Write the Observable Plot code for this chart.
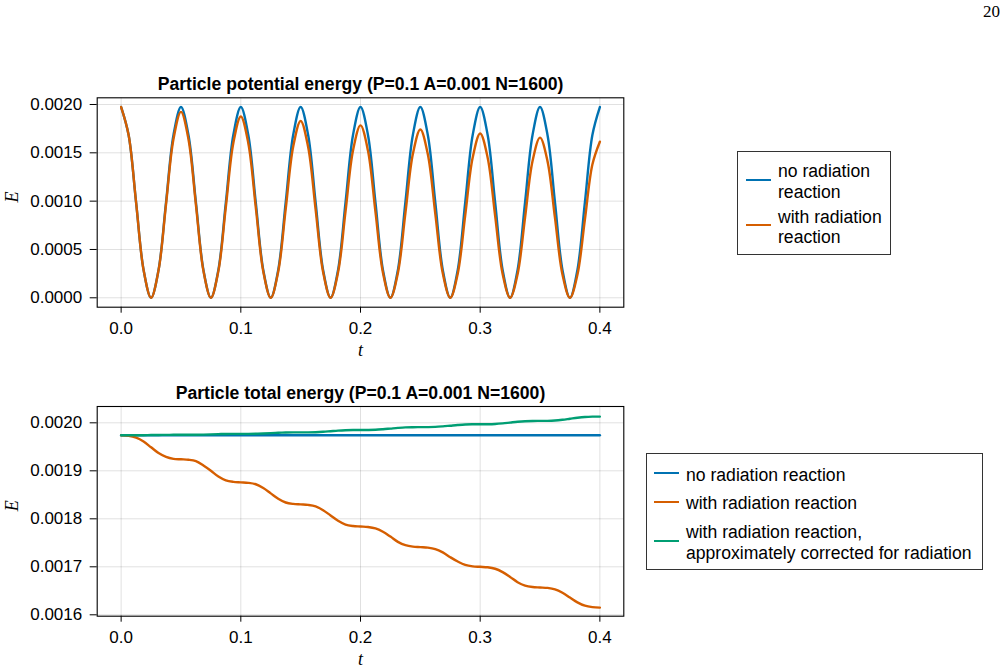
<!DOCTYPE html>
<html>
<head>
<meta charset="utf-8">
<script src="https://cdn.jsdelivr.net/npm/d3@7"></script>
<script src="https://cdn.jsdelivr.net/npm/@observablehq/plot@0.6"></script>
<style>
  html, body { margin: 0; padding: 0; background: #fff; }
  #page { position: relative; width: 1008px; height: 672px; overflow: hidden; background: #fff;
          font-family: "Liberation Sans", Arial, Helvetica, sans-serif; color: #000; }
  .abs { position: absolute; }
  .pagenum { font-family: "Liberation Serif", "DejaVu Serif", serif; font-size: 17px; right: 8px; top: 2px; }
  .legend { position: absolute; border: 1px solid #333; background: #fff; box-sizing: border-box; }
  .sw { position: absolute; height: 0; border-top: 2.6px solid; width: 25px; }
  .lt { position: absolute; font-size: 17.6px; line-height: 20.5px; white-space: pre; }
</style>
</head>
<body>
<div id="page"></div>
<script>
// ---------------- data ----------------
const tGrid = [0,0.00625,0.0125,0.01875,0.025,0.03125,0.0375,0.04375,
  0.05,0.05625,0.0625,0.06875,0.075,0.08125,0.0875,0.09375,
  0.1,0.10625,0.1125,0.11875,0.125,0.13125,0.1375,0.14375,
  0.15,0.15625,0.1625,0.16875,0.175,0.18125,0.1875,0.19375,
  0.2,0.20625,0.2125,0.21875,0.225,0.23125,0.2375,0.24375,
  0.25,0.25625,0.2625,0.26875,0.275,0.28125,0.2875,0.29375,
  0.3,0.30625,0.3125,0.31875,0.325,0.33125,0.3375,0.34375,
  0.35,0.35625,0.3625,0.36875,0.375,0.38125,0.3875,0.39375,
  0.4];

// potential energy, no radiation reaction
const potNoRR = [0.001974,0.001685,0.000987,0.000289,0,0.000289,0.000987,0.001685,
  0.001974,0.001685,0.000987,0.000289,0,0.000289,0.000987,0.001685,
  0.001974,0.001685,0.000987,0.000289,0,0.000289,0.000987,0.001685,
  0.001974,0.001685,0.000987,0.000289,0,0.000289,0.000987,0.001685,
  0.001974,0.001685,0.000987,0.000289,0,0.000289,0.000987,0.001685,
  0.001974,0.001685,0.000987,0.000289,0,0.000289,0.000987,0.001685,
  0.001974,0.001685,0.000987,0.000289,0,0.000289,0.000987,0.001685,
  0.001974,0.001685,0.000987,0.000289,0,0.000289,0.000987,0.001685,
  0.001974];

// potential energy, with radiation reaction
const potWithRR = [0.001974,0.001684,0.000985,0.000287,0,0.000284,0.000965,0.001643,
  0.001924,0.001641,0.000960,0.000280,0,0.000276,0.000940,0.001602,
  0.001876,0.001600,0.000936,0.000273,0,0.000270,0.000917,0.001563,
  0.001830,0.001561,0.000913,0.000266,0,0.000263,0.000894,0.001524,
  0.001784,0.001522,0.000890,0.000260,0,0.000257,0.000873,0.001487,
  0.001741,0.001485,0.000869,0.000253,0,0.000250,0.000852,0.001452,
  0.001700,0.001450,0.000848,0.000247,0,0.000244,0.000831,0.001415,
  0.001657,0.001414,0.000827,0.000241,0,0.000238,0.000810,0.001379,
  0.001615];

// total energy
const totT = [0,0.05,0.1,0.15,0.2,0.25,0.3,0.35,0.4];
const totNoRR = [0.001974,0.001974,0.001974,0.001974,0.001974,0.001974,0.001974,0.001974,0.001974];

const totWithRR = [0.001974,0.001973,0.001969,0.001961,0.001949,0.001937,0.001929,0.001925,
  0.001924,0.001923,0.001920,0.001911,0.001900,0.001888,0.001880,0.001877,
  0.001876,0.001875,0.001872,0.001864,0.001853,0.001842,0.001834,0.001831,
  0.001830,0.001829,0.001826,0.001818,0.001807,0.001796,0.001788,0.001785,
  0.001784,0.001783,0.001780,0.001773,0.001763,0.001752,0.001745,0.001742,
  0.001741,0.001740,0.001737,0.001730,0.001720,0.001711,0.001704,0.001701,
  0.001700,0.001699,0.001696,0.001689,0.001679,0.001668,0.001661,0.001658,
  0.001657,0.001656,0.001653,0.001646,0.001636,0.001626,0.001619,0.001616,
  0.001615];

const totCorrected = [0.001974,0.001974,0.001974,0.001974,0.0019745,0.0019747,0.0019749,0.001975,
  0.001975,0.001975,0.0019752,0.0019755,0.001976,0.0019765,0.0019768,0.001977,
  0.001977,0.001977,0.0019773,0.0019778,0.0019785,0.0019792,0.0019797,0.001980,
  0.001980,0.0019801,0.0019805,0.0019813,0.0019825,0.0019837,0.0019845,0.0019849,
  0.001985,0.0019851,0.0019855,0.0019866,0.001988,0.0019894,0.0019905,0.0019909,
  0.001991,0.0019911,0.0019915,0.0019926,0.001994,0.0019954,0.0019965,0.0019969,
  0.001997,0.0019971,0.0019976,0.0019988,0.0020005,0.0020022,0.0020034,0.0020039,
  0.002004,0.0020041,0.0020048,0.0020064,0.0020085,0.0020106,0.0020122,0.0020129,
  0.002013];

const xTicks = [0, 0.1, 0.2, 0.3, 0.4];
const yTicksTop = [0, 0.0005, 0.0010, 0.0015, 0.0020];
const yTicksBottom = [0.0016, 0.0017, 0.0018, 0.0019, 0.0020];

const titleTop = "Particle potential energy (P=0.1 A=0.001 N=1600)";
const titleBottom = "Particle total energy (P=0.1 A=0.001 N=1600)";
const xLabel = "t";
const yLabel = "E";
const seriesNames = ["no radiation reaction", "with radiation reaction",
  "with radiation reaction,\napproximately corrected for radiation"];
const topLegendNames = ["no radiation\nreaction", "with radiation\nreaction"];
const colors = ["#0072B2", "#D55E00", "#009E73"];
const pageNumber = "20";

// ---------------- drawing ----------------
const page = document.getElementById("page");

function rows(xs, ys, name) { return xs.map((x, i) => ({t: x, E: ys[i], s: name})); }

function panel({height, marginTop, marginBottom, yDomain, yTicks, title, series}) {
  const serifItalic = "'Liberation Serif', 'DejaVu Serif', serif";
  return Plot.plot({
    width: 640, height,
    marginLeft: 96.7, marginRight: 16.7, marginTop, marginBottom,
    style: {fontFamily: "'Liberation Sans', Arial, Helvetica, sans-serif", fontSize: "17px", color: "#000", background: "transparent", overflow: "visible"},
    x: {domain: [-0.02, 0.42]},
    y: {domain: yDomain},
    marks: [
      Plot.gridX(xTicks, {stroke: "#000", strokeOpacity: 0.12, strokeWidth: 1}),
      Plot.gridY(yTicks, {stroke: "#000", strokeOpacity: 0.12, strokeWidth: 1}),
      ...series.map(s => Plot.line(s.data, {x: "t", y: "E", stroke: s.color, strokeWidth: 2.4, curve: "catmull-rom"})),
      Plot.frame({stroke: "#000", strokeWidth: 1.1}),
      Plot.axisX(xTicks, {tickFormat: d3.format(".1f"), tickSize: 6, tickPadding: 9, label: null, fontSize: 17}),
      Plot.axisY(yTicks, {tickFormat: d3.format(".4f"), tickSize: 7, tickPadding: 8, label: null, fontSize: 17}),
      Plot.text([title], {frameAnchor: "top", lineAnchor: "middle", dy: -13.5, fontWeight: "bold", fontSize: 17.6}),
      Plot.text([xLabel], {frameAnchor: "bottom", lineAnchor: "middle", dy: 43.5, fontStyle: "italic", fontFamily: serifItalic, fontSize: 18}),
      Plot.text([yLabel], {frameAnchor: "left", lineAnchor: "middle", dx: -84.5, rotate: -90, fontStyle: "italic", fontFamily: serifItalic, fontSize: 18})
    ]
  });
}

const topPanel = panel({
  height: 310, marginTop: 37.3, marginBottom: 63.3,
  yDomain: [-0.0000973, 0.0020693], yTicks: yTicksTop, title: titleTop,
  series: [
    {data: rows(tGrid, potNoRR, seriesNames[0]), color: colors[0]},
    {data: rows(tGrid, potWithRR, seriesNames[1]), color: colors[1]}
  ]
});
topPanel.style.position = "absolute"; topPanel.style.left = "0px"; topPanel.style.top = "60px";
page.appendChild(topPanel);

const bottomPanel = panel({
  height: 302, marginTop: 36, marginBottom: 56.3,
  yDomain: [0.0015971, 0.0020340], yTicks: yTicksBottom, title: titleBottom,
  series: [
    {data: rows(totT, totNoRR, seriesNames[0]), color: colors[0]},
    {data: rows(tGrid, totWithRR, seriesNames[1]), color: colors[1]},
    {data: rows(tGrid, totCorrected, seriesNames[2]), color: colors[2]}
  ]
});
bottomPanel.style.position = "absolute"; bottomPanel.style.left = "0px"; bottomPanel.style.top = "370px";
page.appendChild(bottomPanel);

// page number
const pn = document.createElement("div");
pn.className = "abs pagenum"; pn.textContent = pageNumber;
page.appendChild(pn);

// legends
function legend(box, entries) {
  const el = document.createElement("div");
  el.className = "legend";
  Object.assign(el.style, {left: box.left + "px", top: box.top + "px", width: box.width + "px", height: box.height + "px"});
  entries.forEach(e => {
    const sw = document.createElement("div");
    sw.className = "sw";
    Object.assign(sw.style, {left: e.swX + "px", top: (e.swY - 1.3) + "px", borderTopColor: e.color});
    el.appendChild(sw);
    const tx = document.createElement("div");
    tx.className = "lt";
    Object.assign(tx.style, {left: e.txX + "px", top: e.txY + "px"});
    tx.textContent = e.label;
    el.appendChild(tx);
  });
  page.appendChild(el);
}

legend({left: 737, top: 151, width: 154, height: 104}, [
  {label: topLegendNames[0], color: colors[0], swX: 8, swY: 28.5, txX: 40, txY: 9},
  {label: topLegendNames[1], color: colors[1], swX: 8, swY: 73.5, txX: 40, txY: 54.5}
]);

legend({left: 646, top: 453, width: 337, height: 117}, [
  {label: seriesNames[0], color: colors[0], swX: 7, swY: 19.5, txX: 39, txY: 10.5},
  {label: seriesNames[1], color: colors[1], swX: 7, swY: 48.5, txX: 39, txY: 39},
  {label: seriesNames[2], color: colors[2], swX: 7, swY: 87, txX: 39, txY: 68}
]);
</script>
</body>
</html>
